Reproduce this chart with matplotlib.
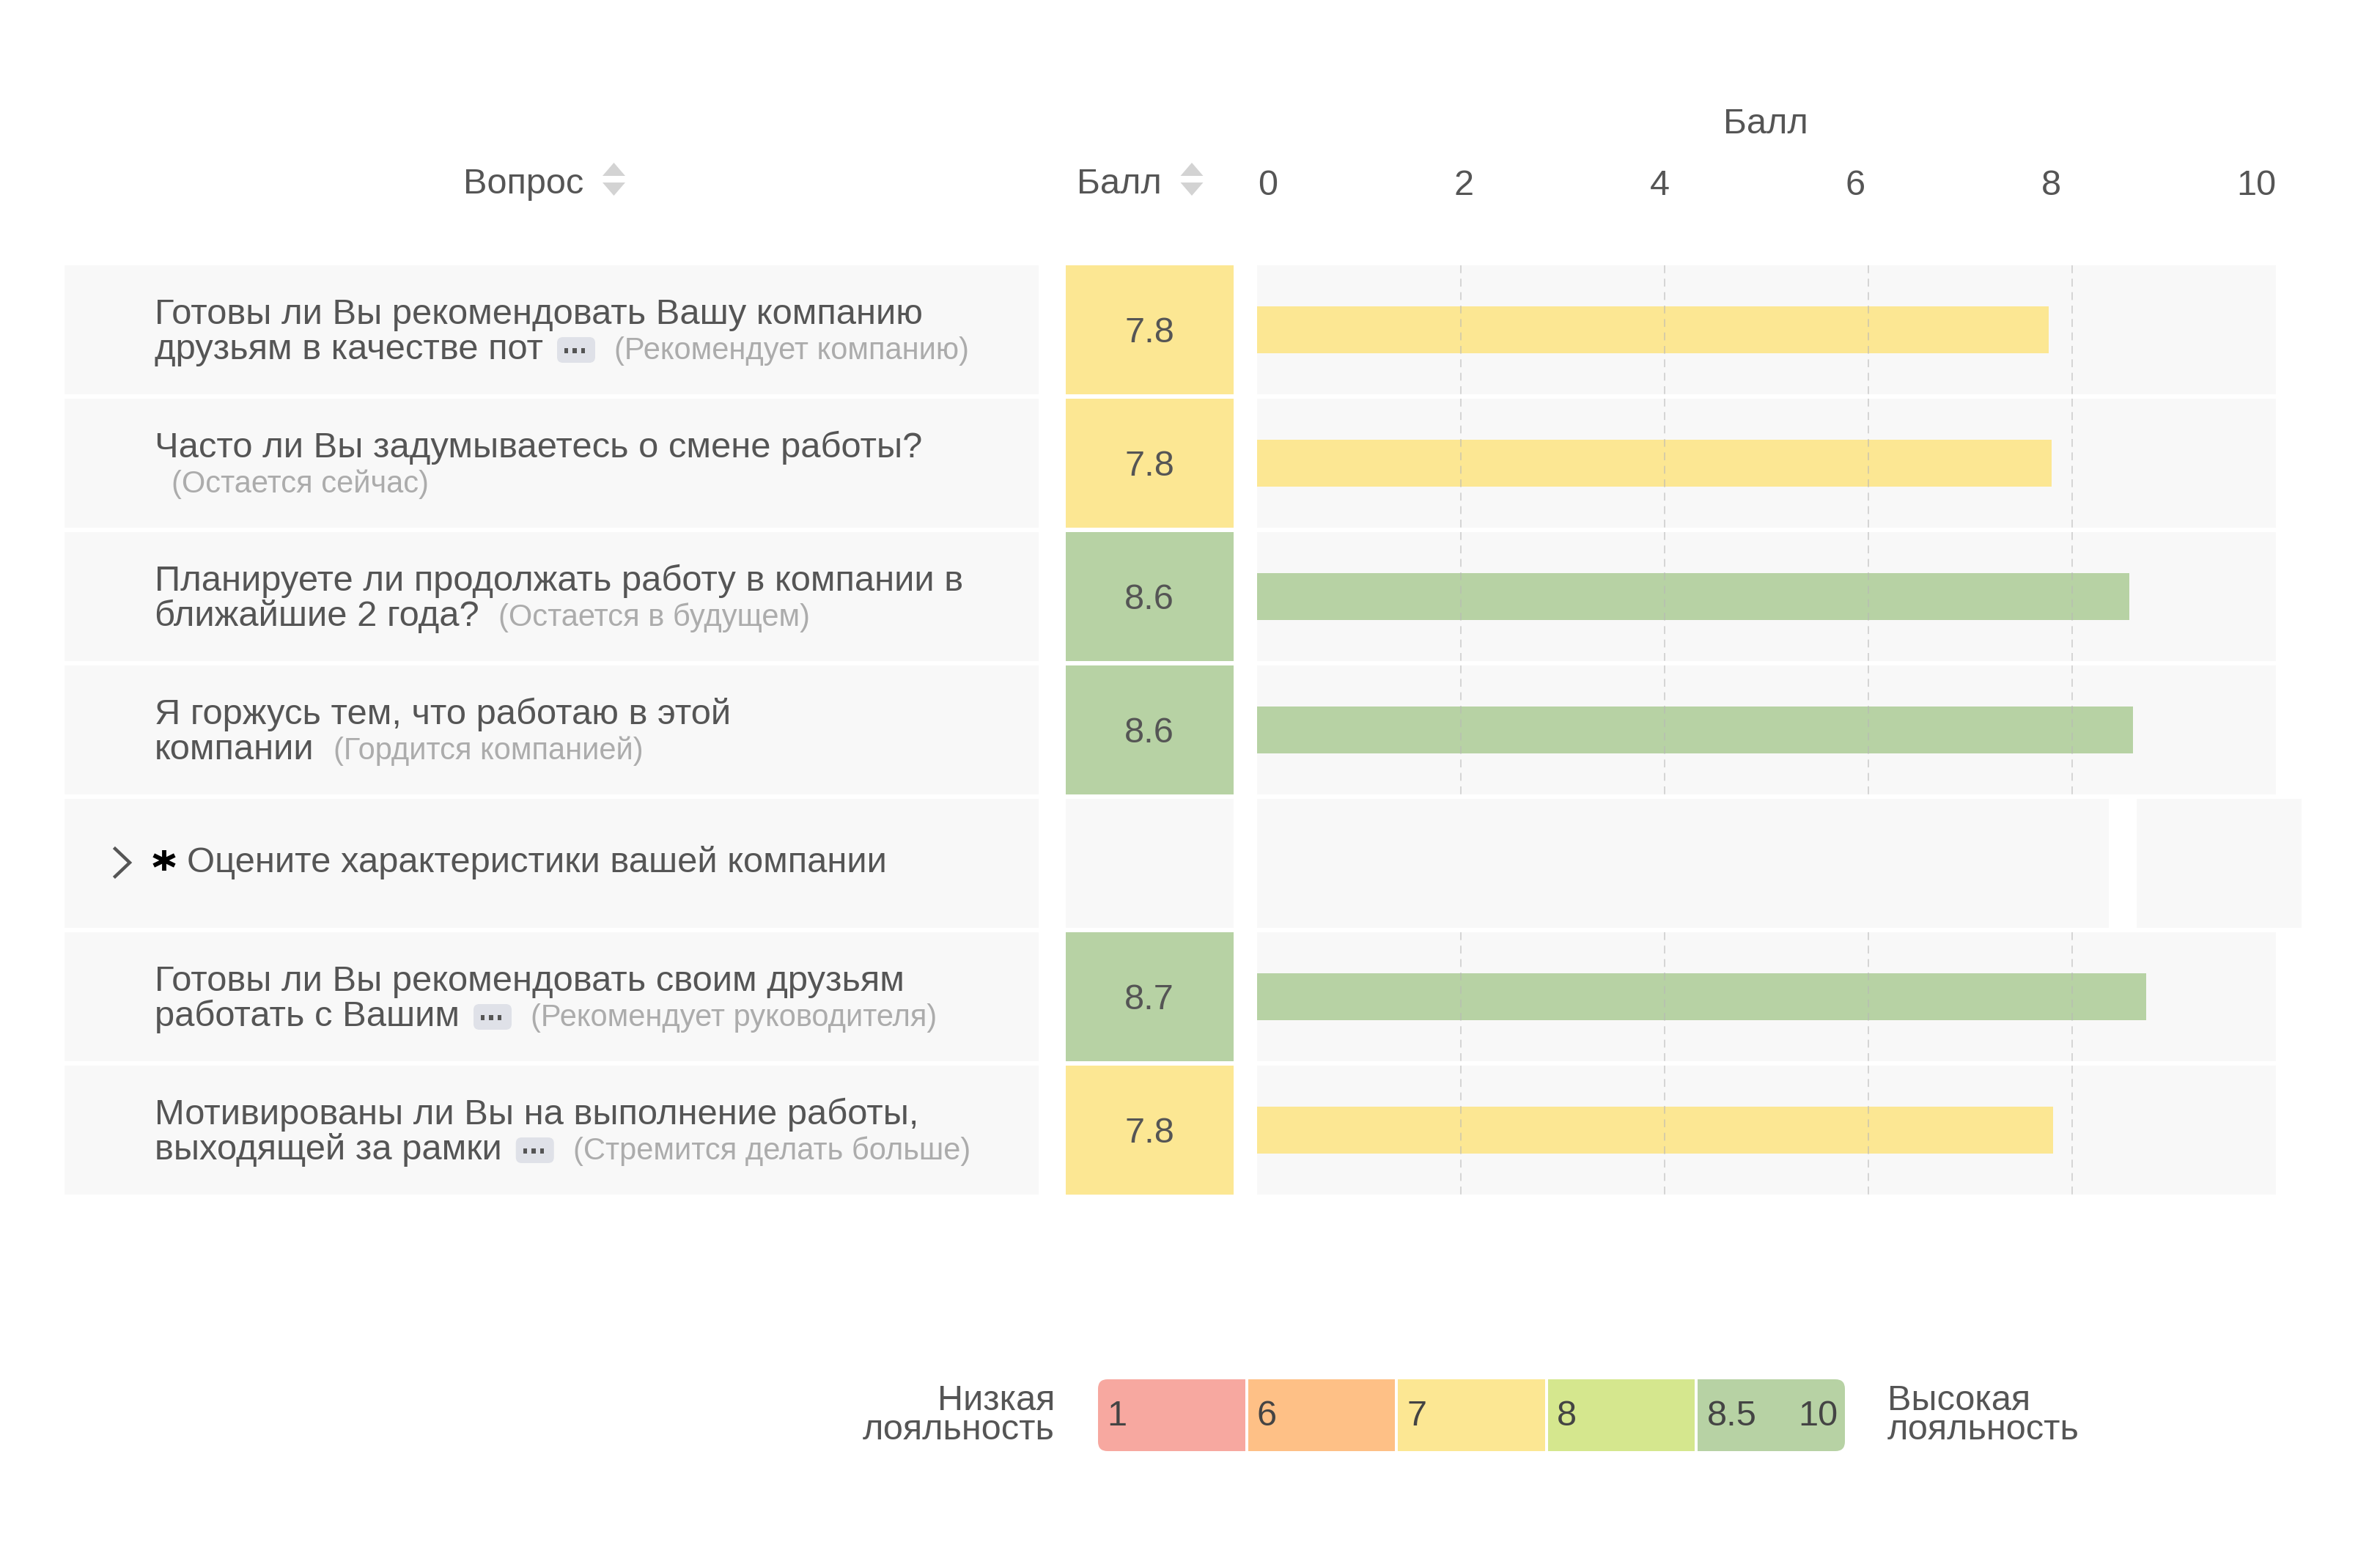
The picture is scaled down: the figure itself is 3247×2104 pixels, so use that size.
import numpy as np
import matplotlib
matplotlib.use("Agg")
import matplotlib.pyplot as plt
from matplotlib.patches import Rectangle, FancyBboxPatch, Polygon

# ---------------- data ----------------
question_line1 = [
    "Готовы ли Вы рекомендовать Вашу компанию",
    "Часто ли Вы задумываетесь о смене работы?",
    "Планируете ли продолжать работу в компании в",
    "Я горжусь тем, что работаю в этой",
    "Оцените характеристики вашей компании",
    "Готовы ли Вы рекомендовать своим друзьям",
    "Мотивированы ли Вы на выполнение работы,",
]
question_line2 = [
    "друзьям в качестве пот",
    "",
    "ближайшие 2 года?",
    "компании",
    None,
    "работать с Вашим",
    "выходящей за рамки",
]
short_names = [
    "Рекомендует компанию",
    "Остается сейчас",
    "Остается в будущем",
    "Гордится компанией",
    None,
    "Рекомендует руководителя",
    "Стремится делать больше",
]
truncated = [True, False, False, False, False, True, True]
is_group = [False, False, False, False, True, False, False]
scores = [7.77, 7.80, 8.56, 8.60, np.nan, 8.73, 7.81]

x_ticks = [0, 2, 4, 6, 8, 10]
grid_values = [2, 4, 6, 8]
legend_bounds = [1, 6, 7, 8, 8.5, 10]
legend_colors = ["#f7a8a0", "#fec086", "#fce793", "#d5e78e", "#b7d2a4"]

col_question = "Вопрос"
col_score = "Балл"
axis_title = "Балл"
legend_low = ["Низкая", "лояльность"]
legend_high = ["Высокая", "лояльность"]

# ---------------- styling ----------------
W, H = 3248, 2104
FONT = "Liberation Sans"
TXT = "#555555"
SUB = "#acacac"
ROWBG = "#f8f8f8"
plt.rcParams["font.family"] = [FONT, "DejaVu Sans"]

fig = plt.figure(figsize=(W / 100, H / 100), dpi=100)
fig.patch.set_facecolor("white")

# pixel-space canvas for the table layout
ax0 = fig.add_axes([0, 0, 1, 1])
ax0.set_xlim(0, W)
ax0.set_ylim(H, 0)
ax0.axis("off")

# bar axes
n = len(scores)
BX0, BX1 = 1715, 3105
BY0, BY1 = 359, 359 + 182 * n
axb = fig.add_axes([BX0 / W, 1 - BY1 / H, (BX1 - BX0) / W, (BY1 - BY0) / H])
axb.set_xlim(0, 10)
axb.set_ylim(n - 0.5, -0.5)
axb.axis("off")
axb.patch.set_alpha(0)

ROWH = 176 / 182


def score_color(v):
    idx = int(np.searchsorted(legend_bounds[1:-1], v, side="right"))
    return legend_colors[idx]


def row_center_px(i):
    return H - axb.transData.transform((0, i))[1]


renderer = fig.canvas.get_renderer()

for i in range(n):
    cy = row_center_px(i)
    top = cy - 88
    # question cell
    ax0.add_patch(Rectangle((88, top), 1417 - 88, 176, color=ROWBG, lw=0, zorder=1))
    # score cell
    v = scores[i]
    if np.isnan(v):
        ax0.add_patch(Rectangle((1454, top), 1683 - 1454, 176, color=ROWBG, lw=0, zorder=1))
    else:
        ax0.add_patch(Rectangle((1454, top), 1683 - 1454, 176, color=score_color(v), lw=0, zorder=1))
        ax0.text(1568, cy + 17, f"{v:.1f}", fontsize=35, color=TXT, ha="center",
                 va="baseline", zorder=3)

    # bar-area background
    if is_group[i]:
        axb.add_patch(Rectangle((0, i - ROWH / 2), 8.36, ROWH, color=ROWBG, lw=0, zorder=1))
        axb.add_patch(Rectangle((8.63, i - ROWH / 2), 1.62, ROWH, color=ROWBG, lw=0,
                                zorder=1, clip_on=False))
    else:
        axb.add_patch(Rectangle((0, i - ROWH / 2), 10, ROWH, color=ROWBG, lw=0, zorder=1))
        axb.vlines(grid_values, i - ROWH / 2, i + ROWH / 2, colors="#b8b8b8",
                   linestyles=(0, (7, 5)), lw=1.1, alpha=0.7, zorder=4)

    # question text
    if is_group[i]:
        ax0.plot([157, 177, 157], [cy - 20, cy - 1, cy + 18], color=TXT, lw=3.2,
                 solid_joinstyle="miter", zorder=3)
        ax = 224
        ay = cy - 4
        for ang in (90, 30, -30):
            dx = 16.5 * np.cos(np.radians(ang))
            dy = 14 * np.sin(np.radians(ang))
            ax0.plot([ax - dx, ax + dx], [ay - dy, ay + dy], color="black", lw=4.2,
                     solid_capstyle="butt", zorder=3)
        ax0.text(255, cy + 12, question_line1[i], fontsize=35.2, color=TXT, ha="left",
                 va="baseline", zorder=3)
        continue

    ax0.text(211, cy - 8, question_line1[i], fontsize=35.2, color=TXT, ha="left",
             va="baseline", zorder=3)
    line2 = question_line2[i]
    if line2:
        t2 = ax0.text(211, cy + 40, line2, fontsize=35.2, color=TXT, ha="left",
                      va="baseline", zorder=3)
        xend = t2.get_window_extent(renderer).x1
    else:
        xend = 211 - 3
    if truncated[i]:
        px = xend + 19
        ax0.add_patch(FancyBboxPatch((px, cy + 10), 52, 35,
                                     boxstyle="round,pad=0,rounding_size=8",
                                     fc="#dfe1e8", ec="none", zorder=2))
        for k in range(3):
            ax0.add_patch(Rectangle((px + 10 + 11.5 * k, cy + 25), 5.5, 6.5,
                                    color=TXT, lw=0, zorder=3))
        xend = px + 52
    ax0.text(xend + 26, cy + 40, f"({short_names[i]})", fontsize=30, color=SUB,
             ha="left", va="baseline", zorder=3)

# bars
vals = np.array(scores, dtype=float)
ypos = np.arange(n)
mask = ~np.isnan(vals)
axb.barh(ypos[mask], vals[mask], height=0.35,
         color=[score_color(v) for v in vals[mask]], zorder=2)

# ---------------- header ----------------
ax0.text(714, 264, col_question, fontsize=35, color=TXT, ha="center", va="baseline")
ax0.text(1527, 264, col_score, fontsize=35, color=TXT, ha="center", va="baseline")
for cx in (837.5, 1626):
    ax0.add_patch(Polygon([[cx - 15.5, 240], [cx + 15.5, 240], [cx, 222]],
                          closed=True, color="#d3d3d3", lw=0))
    ax0.add_patch(Polygon([[cx - 15.5, 249], [cx + 15.5, 249], [cx, 267]],
                          closed=True, color="#d3d3d3", lw=0))

axh = fig.add_axes([BX0 / W, 0, (BX1 - BX0) / W, 1])
axh.set_xlim(-0.112, 10.30)
axh.set_ylim(H, 0)
axh.axis("off")
axh.patch.set_alpha(0)
for v in x_ticks:
    if v == x_ticks[-1]:
        axh.text(axh.get_xlim()[1], 266, str(v), fontsize=35, color=TXT, ha="right",
                 va="baseline")
    else:
        axh.text(v, 266, str(v), fontsize=35, color=TXT, ha="center", va="baseline")
ax0.text(2409, 182, axis_title, fontsize=35, color=TXT, ha="center", va="baseline")

# ---------------- legend ----------------
LX0, LY0, LY1 = 1498, 1882, 1980
seg_w = 200.6
gap = 4
nseg = len(legend_colors)
for k, c in enumerate(legend_colors):
    x = LX0 + k * (seg_w + gap)
    if k == 0 or k == nseg - 1:
        ax0.add_patch(FancyBboxPatch((x, LY0), seg_w, LY1 - LY0,
                                     boxstyle="round,pad=0,rounding_size=13",
                                     fc=c, ec="none", zorder=2))
        inner_x = x + seg_w / 2 if k == 0 else x
        ax0.add_patch(Rectangle((inner_x, LY0), seg_w / 2, LY1 - LY0, color=c, lw=0, zorder=2))
    else:
        ax0.add_patch(Rectangle((x, LY0), seg_w, LY1 - LY0, color=c, lw=0, zorder=2))
    ax0.text(x + 12, 1945, f"{legend_bounds[k]:g}", fontsize=35, color="#444444",
             ha="left", va="baseline", zorder=3)
lx_end = LX0 + nseg * seg_w + (nseg - 1) * gap
ax0.text(lx_end - 10, 1945, f"{legend_bounds[-1]:g}", fontsize=35, color="#444444",
         ha="right", va="baseline", zorder=3)

ax0.text(1439, 1924, legend_low[0], fontsize=35, color=TXT, ha="right", va="baseline")
ax0.text(1439, 1964, legend_low[1], fontsize=35, color=TXT, ha="right", va="baseline")
ax0.text(2575, 1924, legend_high[0], fontsize=35, color=TXT, ha="left", va="baseline")
ax0.text(2575, 1964, legend_high[1], fontsize=35, color=TXT, ha="left", va="baseline")

fig.savefig("out.png", dpi=100, facecolor="white")
